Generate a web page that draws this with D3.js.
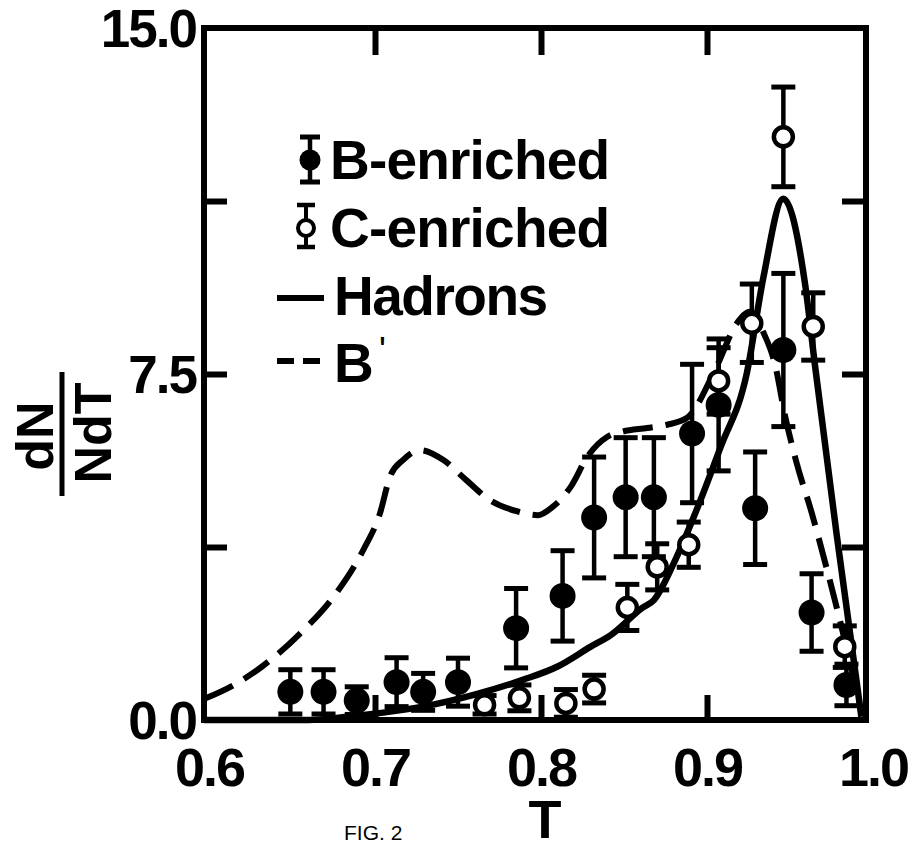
<!DOCTYPE html>
<html><head><meta charset="utf-8">
<script src="https://cdn.jsdelivr.net/npm/d3@7"></script>
<style>body{margin:0;background:#fff} svg{display:block}</style>
</head><body><svg id="c" width="909" height="846"></svg>
<script>
// ---------------- data ----------------
const xTickValues = [0.6, 0.7, 0.8, 0.9, 1.0];
const xTickLabels = ["0.6", "0.7", "0.8", "0.9", "1.0"];
const yTickValues = [0, 7.5, 15];
const yTickLabels = ["0.0", "7.5", "15.0"];
const yInnerTicks = [3.75, 7.5, 11.25];
const xInnerTicks = [0.7, 0.8, 0.9];

// B-enriched (filled)
const bT = [0.649, 0.669, 0.689, 0.713, 0.729, 0.750, 0.785, 0.813, 0.832, 0.851, 0.868, 0.891, 0.907, 0.929, 0.946, 0.963, 0.984];
const bV = [0.61, 0.61, 0.42, 0.82, 0.61, 0.82, 1.99, 2.69, 4.39, 4.83, 4.83, 6.21, 6.83, 4.59, 8.02, 2.33, 0.76];
const bE = [0.48, 0.48, 0.30, 0.53, 0.40, 0.52, 0.86, 0.98, 1.31, 1.29, 1.29, 1.50, 1.43, 1.22, 1.66, 0.84, 0.45];

// C-enriched (open)
const cT = [0.766, 0.787, 0.815, 0.832, 0.852, 0.870, 0.889, 0.907, 0.927, 0.946, 0.964, 0.983];
const cV = [0.33, 0.48, 0.36, 0.67, 2.44, 3.32, 3.80, 7.35, 8.60, 12.64, 8.53, 1.59];
const cE = [0.20, 0.28, 0.30, 0.30, 0.50, 0.50, 0.49, 0.72, 0.85, 1.08, 0.73, 0.45];

// Hadrons (solid curve)
const hadT = [0.597, 0.660, 0.683, 0.705, 0.729, 0.760, 0.789, 0.810, 0.830, 0.842, 0.861, 0.868, 0.880, 0.892, 0.908, 0.924, 0.934, 0.946, 0.959, 0.965, 0.978, 0.993];
const hadV = [0.00, 0.00, 0.07, 0.16, 0.29, 0.55, 0.87, 1.16, 1.59, 1.84, 2.43, 2.60, 3.40, 4.40, 5.90, 7.52, 9.60, 11.30, 9.47, 7.70, 4.05, 0.07];

// B' (dashed curve)
const bpT = [0.598, 0.615, 0.632, 0.655, 0.675, 0.693, 0.703, 0.709, 0.717, 0.727, 0.741, 0.755, 0.769, 0.786, 0.798, 0.807, 0.818, 0.828, 0.840, 0.849, 0.864, 0.876, 0.888, 0.905, 0.918, 0.926, 0.934, 0.941, 0.947, 0.954, 0.963, 0.972, 0.983, 0.993];
const bpV = [0.47, 0.76, 1.16, 1.88, 2.67, 3.69, 4.48, 5.27, 5.64, 5.85, 5.64, 5.20, 4.77, 4.52, 4.44, 4.62, 5.06, 5.71, 6.14, 6.25, 6.33, 6.40, 6.55, 7.60, 8.60, 8.85, 8.40, 7.70, 6.60, 5.57, 4.50, 3.30, 1.73, 0.17];

const legendItems = ["B-enriched", "C-enriched", "Hadrons", "B"];

// ---------------- layout ----------------
const FONT = "'Liberation Sans', Arial, Helvetica, sans-serif";
const svg = d3.select("#c");
const x = d3.scaleLinear().domain([0.6, 1.0]).range([209, 873]);
const y = d3.scaleLinear().domain([0, 15]).range([720, 28]);
const frame = {left: 204, right: 866, top: y(15), bottom: y(0)};

// curves
const lineGen = d3.line().x(d => x(d[0])).y(d => y(d[1])).curve(d3.curveMonotoneX);
svg.append("path").datum(bpT.map((t, i) => [t, bpV[i]]))
  .attr("d", lineGen).attr("fill", "none").attr("stroke", "#000")
  .attr("stroke-width", 6).attr("stroke-dasharray", "30,13");
svg.append("path").datum(hadT.map((t, i) => [t, hadV[i]]))
  .attr("d", lineGen).attr("fill", "none").attr("stroke", "#000")
  .attr("stroke-width", 6.5).attr("stroke-linejoin", "round");

// error bars
function errorBars(T, V, E) {
  const g = svg.append("g").attr("stroke", "#000");
  const data = T.map((t, i) => ({t, v: V[i], e: E[i]}));
  g.selectAll(".stem").data(data).join("line")
    .attr("x1", d => x(d.t)).attr("x2", d => x(d.t))
    .attr("y1", d => y(d.v + d.e)).attr("y2", d => y(Math.max(0, d.v - d.e)))
    .attr("stroke-width", 4.5);
  ["top", "bot"].forEach(k => {
    g.selectAll(".cap" + k).data(data).join("line")
      .attr("x1", d => x(d.t) - 12).attr("x2", d => x(d.t) + 12)
      .attr("y1", d => y(k === "top" ? d.v + d.e : Math.max(0, d.v - d.e)))
      .attr("y2", d => y(k === "top" ? d.v + d.e : Math.max(0, d.v - d.e)))
      .attr("stroke-width", 5);
  });
  return data;
}
const bData = errorBars(bT, bV, bE);
const cData = errorBars(cT, cV, cE);
svg.append("g").selectAll("circle").data(bData).join("circle")
  .attr("cx", d => x(d.t)).attr("cy", d => y(d.v)).attr("r", 13).attr("fill", "#000");
svg.append("g").selectAll("circle").data(cData).join("circle")
  .attr("cx", d => x(d.t)).attr("cy", d => y(d.v)).attr("r", 9.5)
  .attr("fill", "#fff").attr("stroke", "#000").attr("stroke-width", 4.5);

// frame
svg.append("rect").attr("x", frame.left).attr("y", frame.top)
  .attr("width", frame.right - frame.left).attr("height", frame.bottom - frame.top)
  .attr("fill", "none").attr("stroke", "#000").attr("stroke-width", 6);

// inner ticks via axes
function styleTicks(g) {
  g.select(".domain").remove();
  g.selectAll(".tick line").attr("stroke", "#000").attr("stroke-width", 6);
  g.selectAll(".tick text").remove();
}
svg.append("g").attr("transform", `translate(0,${frame.bottom})`)
  .call(d3.axisBottom(x).tickValues(xInnerTicks).tickSizeInner(-25).tickSizeOuter(0)).call(styleTicks);
svg.append("g").attr("transform", `translate(0,${frame.top})`)
  .call(d3.axisTop(x).tickValues(xInnerTicks).tickSizeInner(-27).tickSizeOuter(0)).call(styleTicks);
svg.append("g").attr("transform", `translate(${frame.left},0)`)
  .call(d3.axisLeft(y).tickValues(yInnerTicks).tickSizeInner(-23).tickSizeOuter(0)).call(styleTicks);
svg.append("g").attr("transform", `translate(${frame.right},0)`)
  .call(d3.axisRight(y).tickValues(yInnerTicks).tickSizeInner(-24).tickSizeOuter(0)).call(styleTicks);

// tick labels via axes
const gx = svg.append("g").attr("transform", `translate(0,${frame.bottom})`)
  .call(d3.axisBottom(x).tickValues(xTickValues).tickSize(0)
    .tickFormat((d, i) => xTickLabels[i]));
gx.select(".domain").remove();
gx.selectAll(".tick text").attr("y", 66).attr("dy", 0)
  .attr("font-family", FONT).attr("font-weight", "bold").attr("font-size", 54)
  .attr("letter-spacing", -2).attr("fill", "#000");

const gy = svg.append("g").attr("transform", `translate(${frame.left},0)`)
  .call(d3.axisLeft(y).tickValues(yTickValues).tickSize(0)
    .tickFormat((d, i) => yTickLabels[i]));
gy.select(".domain").remove();
gy.selectAll(".tick text").attr("x", -8).attr("dy", "0.34em")
  .attr("font-family", FONT).attr("font-weight", "bold").attr("font-size", 53)
  .attr("letter-spacing", -2).attr("fill", "#000");

// axis titles
svg.append("text").attr("x", x(0.8) + 4).attr("y", 838).attr("text-anchor", "middle")
  .attr("font-family", FONT).attr("font-weight", "bold").attr("font-size", 54).text("T");
svg.append("text").attr("x", 344).attr("y", 840)
  .attr("font-family", FONT).attr("font-size", 21).text("FIG. 2");

svg.append("text").attr("transform", "translate(53,436) rotate(-90)").attr("text-anchor", "middle")
  .attr("font-family", FONT).attr("font-weight", "bold").attr("font-size", 52).text("dN");
svg.append("line").attr("x1", 62).attr("x2", 62).attr("y1", 372).attr("y2", 496)
  .attr("stroke", "#000").attr("stroke-width", 5);
svg.append("text").attr("transform", "translate(111,433) rotate(-90)").attr("text-anchor", "middle")
  .attr("font-family", FONT).attr("font-weight", "bold").attr("font-size", 52).text("NdT");

// legend
const lg = svg.append("g");
const rowsY = [179, 247, 315, 382];
lg.selectAll("text.lab").data(legendItems).join("text")
  .attr("x", (d, i) => i < 2 ? 330 : 334).attr("y", (d, i) => rowsY[i])
  .attr("font-family", FONT).attr("font-weight", "bold").attr("font-size", 55)
  .attr("letter-spacing", (d, i) => i === 2 ? -1.5 : -0.8).text(d => d);
lg.append("text").attr("x", 379).attr("y", 363).attr("font-family", FONT)
  .attr("font-size", 36).text("'");
// B-enriched symbol
lg.append("line").attr("x1", 310).attr("x2", 310).attr("y1", 137).attr("y2", 182).attr("stroke", "#000").attr("stroke-width", 4.5);
[137, 182].forEach(yy => lg.append("line").attr("x1", 300).attr("x2", 320).attr("y1", yy).attr("y2", yy).attr("stroke", "#000").attr("stroke-width", 5));
lg.append("circle").attr("cx", 310).attr("cy", 160).attr("r", 10.5);
// C-enriched symbol
lg.append("line").attr("x1", 306).attr("x2", 306).attr("y1", 205).attr("y2", 247).attr("stroke", "#000").attr("stroke-width", 4);
[205, 247].forEach(yy => lg.append("line").attr("x1", 297).attr("x2", 315).attr("y1", yy).attr("y2", yy).attr("stroke", "#000").attr("stroke-width", 4.5));
lg.append("circle").attr("cx", 306).attr("cy", 228).attr("r", 8).attr("fill", "#fff").attr("stroke", "#000").attr("stroke-width", 4);
// Hadrons symbol
lg.append("line").attr("x1", 277).attr("x2", 324).attr("y1", 298).attr("y2", 298).attr("stroke", "#000").attr("stroke-width", 6);
// B' symbol
lg.append("line").attr("x1", 277).attr("x2", 324).attr("y1", 361).attr("y2", 361).attr("stroke", "#000").attr("stroke-width", 6).attr("stroke-dasharray", "17,9");
</script></body></html>
